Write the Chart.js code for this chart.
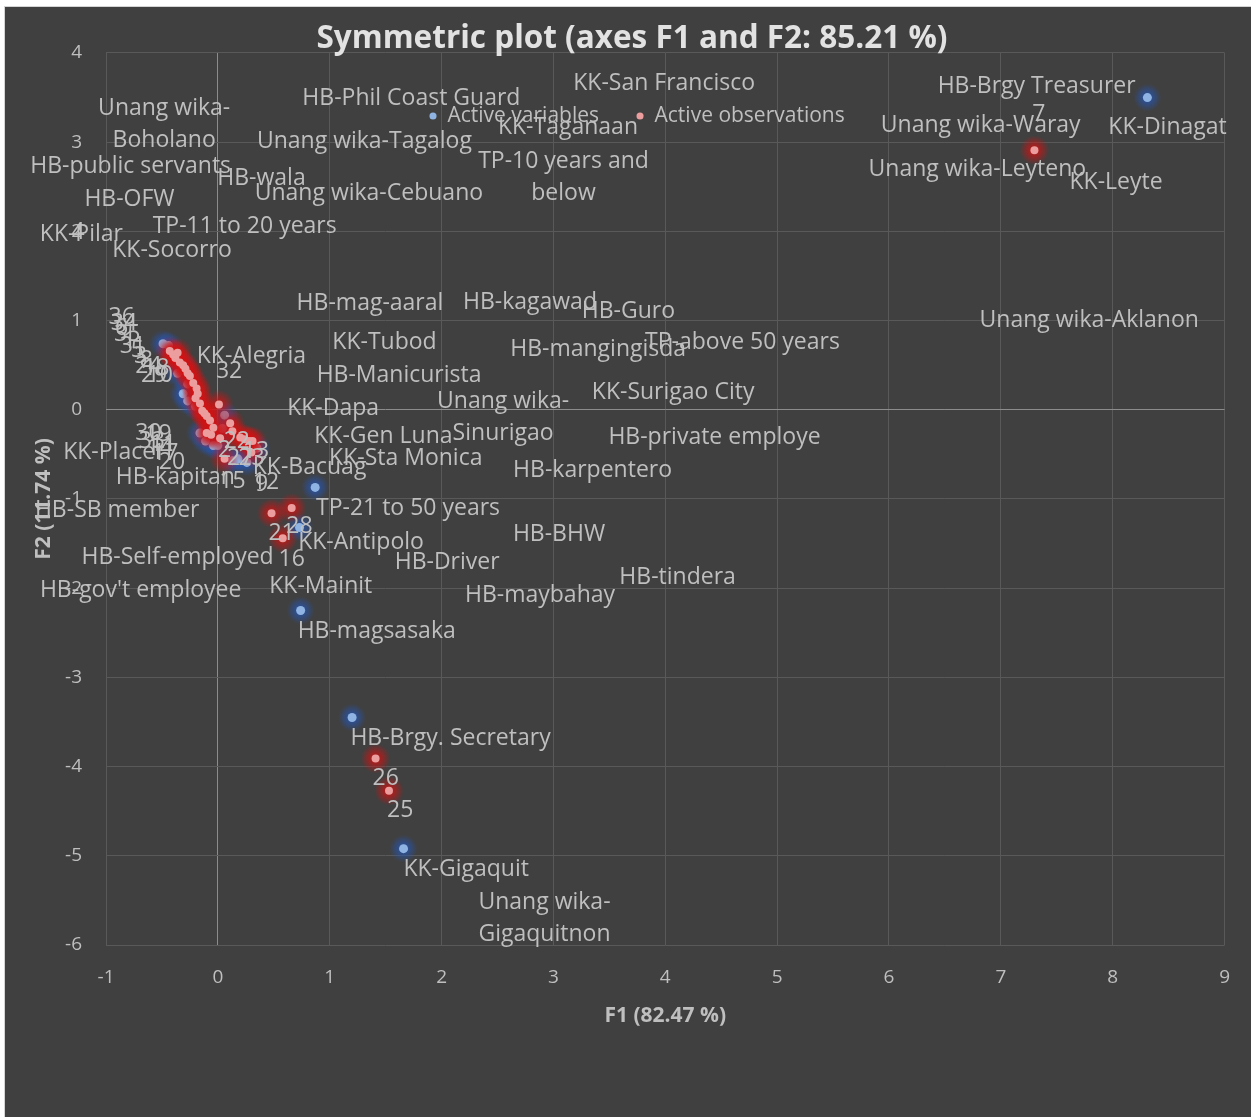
<!DOCTYPE html>
<html>
<head>
<meta charset="utf-8">
<script src="https://cdn.jsdelivr.net/npm/chart.js@4.4.1/dist/chart.umd.min.js"></script>
<style>
  html, body { margin: 0; padding: 0; background: #ffffff; width: 1251px; height: 1117px; overflow: hidden; }
  #frame { position: absolute; left: 4px; top: 6px; width: 1246px; height: 1110px; background: #404040; border-top: 1px solid #d4d4d4; border-left: 1px solid #d4d4d4; }
  canvas { display: block; }
</style>
</head>
<body>
<div id="frame"><canvas id="plot"></canvas></div>
<script>
// Symmetric correspondence map: F1 / F2 coordinates
const TITLE = 'Symmetric plot (axes F1 and F2: 85.21 %)';
const X_TITLE = 'F1 (82.47 %)';
const Y_TITLE = 'F2 (11.74 %)';
const seriesNames = ['Active variables', 'Active observations'];

// Active variables (category coordinates)
const variableX = [8.31, 0.87, 0.73, 0.74, 1.20, 1.66, -0.49, -0.44, -0.32, -0.36, -0.27, -0.31, -0.27, -0.20, -0.16, -0.11, -0.04, 0.00, 0.04, 0.06, 0.13, 0.18, 0.26, 0.35];
const variableY = [3.50, -0.87, -1.32, -2.25, -3.45, -4.92, 0.74, 0.72, 0.49, 0.41, 0.29, 0.18, 0.10, 0.04, -0.26, -0.35, -0.40, -0.40, -0.21, -0.06, -0.57, -0.55, -0.59, -0.43];

// Active observations (respondent coordinates)
const observationX = [7.30, 0.48, 0.66, 0.58, 1.41, 1.53, -0.43, -0.40, -0.38, -0.36, -0.34, -0.31, -0.29, -0.27, -0.25, -0.22, -0.19, -0.20, -0.18, -0.16, -0.14, -0.12, -0.10, -0.07, -0.04, -0.10, -0.06, 0.01, 0.02, 0.11, 0.13, 0.20, 0.24, 0.28, 0.31, 0.06, 0.30];
const observationY = [2.91, -1.16, -1.10, -1.44, -3.91, -4.27, 0.66, 0.62, 0.58, 0.64, 0.53, 0.50, 0.46, 0.41, 0.38, 0.30, 0.24, 0.13, 0.18, 0.07, -0.01, -0.04, -0.07, -0.12, -0.20, -0.26, -0.28, 0.06, -0.32, -0.15, -0.24, -0.31, -0.33, -0.35, -0.35, -0.55, -0.48];

// Category names and where each name sits (axis units)
const variableLabels = [
  'Unang wika-\nBoholano', 'HB-Phil Coast Guard', 'KK-San Francisco', 'KK-Taganaan', 'HB-Brgy Treasurer',
  'Unang wika-Waray', 'KK-Dinagat', 'Unang wika-Tagalog', 'TP-10 years and\nbelow', 'HB-public servants',
  'HB-wala', 'Unang wika-Cebuano', 'Unang wika-Leyteno', 'KK-Leyte', 'HB-OFW',
  'KK-Pilar', 'TP-11 to 20 years', 'KK-Socorro', 'HB-mag-aaral', 'HB-kagawad',
  'HB-Guro', 'Unang wika-Aklanon', 'KK-Tubod', 'TP-above 50 years', 'HB-mangingisda',
  'KK-Alegria', 'HB-Manicurista', 'KK-Surigao City', 'Unang wika-\nSinurigao', 'KK-Dapa',
  'HB-private employe', 'KK-Gen Luna', 'KK-Placer', 'KK-Sta Monica', 'KK-Bacuag',
  'HB-karpentero', 'HB-kapitan', 'TP-21 to 50 years', 'HB-SB member', 'HB-BHW',
  'KK-Antipolo', 'HB-Self-employed', 'HB-Driver', 'HB-tindera', "HB-gov't employee",
  'KK-Mainit', 'HB-maybahay', 'HB-magsasaka', 'HB-Brgy. Secretary', 'KK-Gigaquit',
  'Unang wika-\nGigaquitnon'
];
const variableLabelX = [
  -0.48, 1.73, 3.99, 3.13, 7.32,
  6.82, 8.49, 1.31, 3.09, -0.78,
  0.39, 1.35, 6.79, 8.03, -0.79,
  -1.22, 0.24, -0.41, 1.36, 2.79,
  3.67, 7.79, 1.49, 4.69, 3.40,
  0.30, 1.62, 4.07, 2.55, 1.03,
  4.44, 1.48, -0.93, 1.68, 0.82,
  3.35, -0.38, 1.70, -0.90, 3.05,
  1.28, -0.36, 2.05, 4.11, -0.69,
  0.92, 2.88, 1.42, 2.08, 2.22,
  2.92
];
const variableLabelY = [
  3.20, 3.49, 3.66, 3.17, 3.63,
  3.19, 3.17, 3.01, 2.61, 2.73,
  2.59, 2.43, 2.69, 2.55, 2.36,
  1.97, 2.05, 1.79, 1.19, 1.20,
  1.10, 1.00, 0.76, 0.75, 0.68,
  0.60, 0.39, 0.19, -0.09, 0.01,
  -0.31, -0.30, -0.48, -0.55, -0.65,
  -0.68, -0.76, -1.11, -1.13, -1.40,
  -1.49, -1.65, -1.71, -1.88, -2.02,
  -1.98, -2.08, -2.49, -3.68, -5.15,
  -5.70
];

// Respondent numbers and where each number sits (axis units)
const observationLabels = ['7', '32', '26', '25', '21', '28', '16', '22', '2', '27', '23', '13', '15', '9', '12', '4',
  '36', '34', '6', '35', '1', '31', '5', '3', '8', '24', '29', '10', '18',
  '30', '19', '33', '14', '11', '17', '20'];
const observationLabelX = [7.34, 0.10, 1.50, 1.63, 0.57, 0.73, 0.66, 0.17, 0.06, 0.20, 0.30, 0.34, 0.13, 0.39, 0.43, -1.25,
  -0.86, -0.84, -0.86, -0.81, -0.79, -0.76, -0.72, -0.69, -0.64, -0.62, -0.57, -0.52, -0.55,
  -0.62, -0.53, -0.59, -0.52, -0.49, -0.47, -0.41];
const observationLabelY = [3.31, 0.43, -4.13, -4.49, -1.39, -1.31, -1.68, -0.35, -0.46, -0.54, -0.55, -0.47, -0.80, -0.84, -0.82, 1.99,
  1.04, 0.97, 0.91, 0.84, 0.77, 0.71, 0.66, 0.60, 0.55, 0.49, 0.39, 0.38, 0.46,
  -0.26, -0.28, -0.36, -0.43, -0.39, -0.49, -0.59];

const FONT = "'Open Sans', Lato, sans-serif";
const TEXT = '#bfbfbf';
const GRID = '#595959';
const ZERO_LINE = '#8c8c8c';

const toPoints = (xs, ys) => xs.map((x, i) => ({ x, y: ys[i] }));

// soft coloured halo behind every marker, centred on the element positions
const glowPlugin = {
  id: 'markerGlow',
  beforeDatasetDraw(chart, args) {
    const ds = chart.data.datasets[args.index];
    const ctx = chart.ctx;
    const r = ds.glowRadius;
    ctx.save();
    args.meta.data.forEach((el) => {
      const g = ctx.createRadialGradient(el.x, el.y, 0, el.x, el.y, r);
      g.addColorStop(0, 'rgba(' + ds.glowRGB + ',0.95)');
      g.addColorStop(0.5, 'rgba(' + ds.glowRGB + ',0.5)');
      g.addColorStop(1, 'rgba(' + ds.glowRGB + ',0)');
      ctx.fillStyle = g;
      ctx.beginPath();
      ctx.arc(el.x, el.y, r, 0, Math.PI * 2);
      ctx.fill();
    });
    ctx.restore();
  }
};

// category names and respondent numbers
const namePlugin = {
  id: 'pointNames',
  afterDatasetsDraw(chart) {
    const { ctx, scales: { x, y } } = chart;
    ctx.save();
    ctx.fillStyle = TEXT;
    ctx.textAlign = 'center';
    ctx.textBaseline = 'middle';
    ctx.font = '23px ' + FONT;
    const lineGap = 32;
    const put = (texts, xs, ys) => texts.forEach((t, i) => {
      const lines = t.split('\n');
      const px = x.getPixelForValue(xs[i]);
      const py = y.getPixelForValue(ys[i]);
      lines.forEach((ln, k) => ctx.fillText(ln, px, py + (k - (lines.length - 1) / 2) * lineGap));
    });
    put(variableLabels, variableLabelX, variableLabelY);
    put(observationLabels, observationLabelX, observationLabelY);
    ctx.restore();
  }
};

// legend sits inside the plot near its top; title centred over the whole frame
const boxPlacement = {
  id: 'boxPlacement',
  afterUpdate(chart) {
    const lg = chart.legend;
    if (lg && lg.lineWidths) {
      const pad = lg.options.labels.padding;
      const fontSize = lg.options.labels.font.size;
      const start = chart.chartArea.left + 322;
      lg.left = start - pad;
      lg.right = start + lg.lineWidths[0] + 2;
      lg.top = chart.chartArea.top + 63 - pad - fontSize / 2;
      lg.bottom = lg.top + pad * 2 + fontSize + 10;
    }
    const tb = chart.titleBlock;
    if (tb) {
      tb.left = 8;
      tb.right = chart.width;
    }
  }
};

const gridColor = (c) => (c.tick && c.tick.value === 0 ? ZERO_LINE : GRID);

new Chart(document.getElementById('plot'), {
  type: 'scatter',
  data: {
    datasets: [
      {
        label: seriesNames[0],
        data: toPoints(variableX, variableY),
        backgroundColor: '#8fb4e3',
        borderWidth: 0,
        pointRadius: 4.5,
        glowRGB: '38,86,180',
        glowRadius: 14,
        order: 1
      },
      {
        label: seriesNames[1],
        data: toPoints(observationX, observationY),
        backgroundColor: '#ec9d9d',
        borderWidth: 0,
        pointRadius: 4,
        glowRGB: '210,18,18',
        glowRadius: 15,
        order: 0
      }
    ]
  },
  options: {
    responsive: true,
    maintainAspectRatio: false,
    animation: false,
    layout: { padding: { left: 0, right: 22, top: 0, bottom: 72 } },
    plugins: {
      title: {
        display: true,
        text: TITLE,
        color: '#e2e2e2',
        font: { family: FONT, size: 31.5, weight: 'bold', lineHeight: 0.873 },
        padding: { top: 18, bottom: 0 }
      },
      legend: {
        display: true,
        position: 'top',
        maxHeight: 0.5,
        labels: {
          usePointStyle: true,
          boxWidth: 8,
          boxHeight: 5,
          padding: 37,
          color: TEXT,
          font: { family: FONT, size: 21 },
          sort: (a, b) => a.datasetIndex - b.datasetIndex
        }
      },
      tooltip: { enabled: false }
    },
    scales: {
      x: {
        type: 'linear',
        min: -1,
        max: 9,
        ticks: { stepSize: 1, color: TEXT, font: { family: FONT, size: 19 }, padding: 21, maxRotation: 0 },
        grid: { color: gridColor, drawTicks: false, lineWidth: 1 },
        border: { display: false },
        title: { display: true, text: X_TITLE, color: TEXT, font: { family: FONT, size: 21, weight: 'bold' }, padding: { top: 0, bottom: 16 } },
        afterFit(s) { s.height = 100; }
      },
      y: {
        type: 'linear',
        min: -6,
        max: 4,
        ticks: { stepSize: 1, color: TEXT, font: { family: FONT, size: 19 }, padding: 24 },
        grid: { color: gridColor, drawTicks: false, lineWidth: 1 },
        border: { display: false },
        title: { display: true, text: Y_TITLE, color: TEXT, font: { family: FONT, size: 21, weight: 'bold' }, padding: { top: 26, bottom: 0 } },
        afterFit(s) { s.width = 101; }
      }
    }
  },
  plugins: [glowPlugin, namePlugin, boxPlacement]
});
</script>
</body>
</html>
